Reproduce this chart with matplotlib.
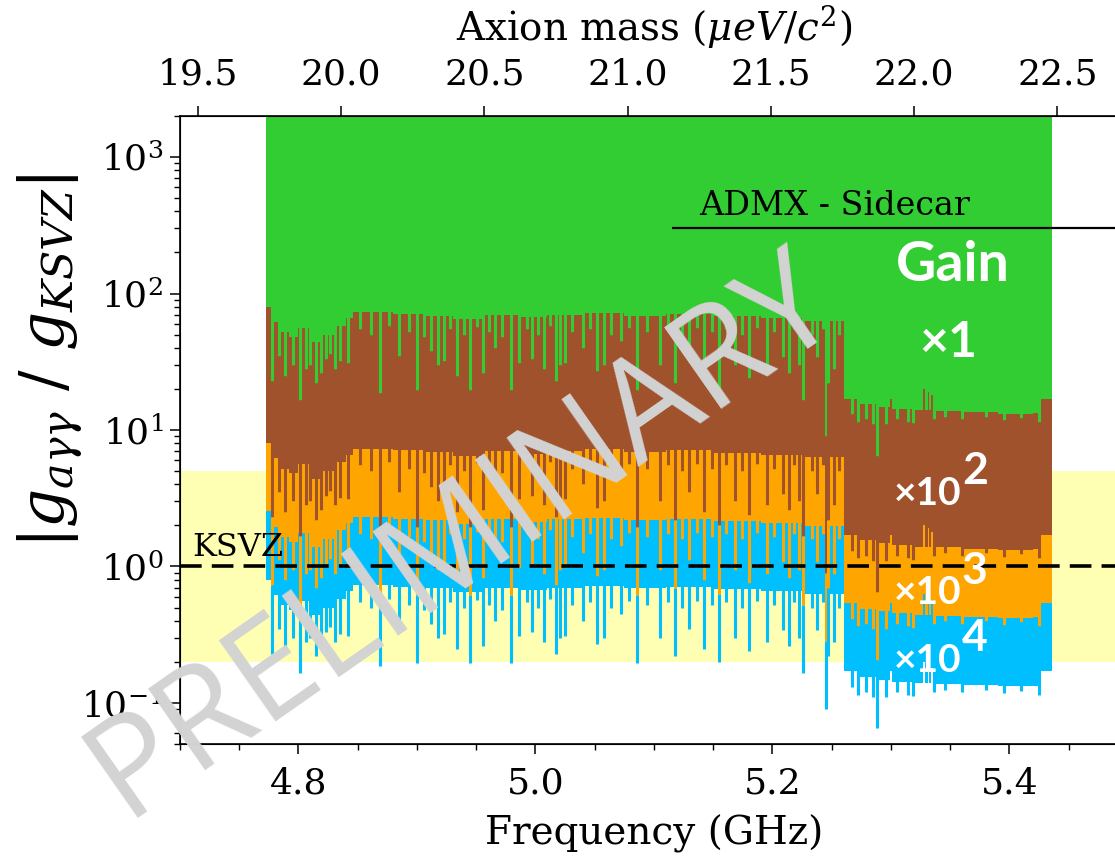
import numpy as np
import matplotlib.pyplot as plt
from matplotlib.ticker import MultipleLocator, FormatStrFormatter

plt.rcParams['font.family'] = 'DejaVu Serif'
plt.rcParams['mathtext.fontset'] = 'dejavuserif'

# h * f : GHz -> ueV
GHZ_TO_UEV = 4.135667

# limit at gain x1: step edges (GHz) and level |g/g_KSVZ|
base_f = [4.773, 4.778, 4.784, 4.792, 4.800, 4.810, 4.820, 4.830, 4.840, 4.846,
          4.880, 4.905, 4.930, 4.955, 4.985, 5.010, 5.040, 5.075, 5.110, 5.150,
          5.190, 5.225, 5.260, 5.272, 5.290, 5.299, 5.301, 5.320, 5.327, 5.3285,
          5.331, 5.3325, 5.334, 5.3355, 5.360, 5.390, 5.420, 5.426, 5.4355]
base_g = [80, 62, 52, 48, 56, 44, 50, 58, 66, 73,
          71, 69, 65, 70, 67, 70, 72, 69, 71, 68,
          66, 63, 17, 15.5, 14.8, 17, 14.3, 14.0, 20, 14,
          19, 14, 18, 13.8, 13.5, 13.2, 13.4, 17, 17]

# narrow dips of the gain x1 limit
dip_f = [4.7775, 4.784, 4.789, 4.795, 4.8017, 4.806, 4.810, 4.815, 4.819, 4.823,
         4.827, 4.831, 4.835, 4.842, 4.869, 4.885, 4.900, 4.912, 4.918, 4.923,
         4.934, 4.945, 4.956, 4.966, 4.979, 4.986, 4.997, 5.007, 5.017, 5.021,
         5.025, 5.040, 5.052, 5.058, 5.072, 5.086, 5.105, 5.118, 5.130, 5.142,
         5.155, 5.168, 5.180, 5.195, 5.209, 5.214, 5.222, 5.226, 5.245, 5.238,
         5.247, 5.252, 5.267, 5.272, 5.279, 5.285, 5.288, 5.296, 5.305, 5.314,
         5.319, 5.336, 5.346, 5.360, 5.380, 5.395, 5.410, 5.425,
         4.852, 4.861, 4.876, 4.893, 4.906, 4.928, 4.940, 4.951, 4.961, 4.972,
         4.993, 5.002, 5.012, 5.031, 5.046, 5.064, 5.079, 5.094, 5.112, 5.124,
         5.136, 5.149, 5.161, 5.174, 5.187, 5.201, 5.218, 5.233, 5.243, 5.256]
dip_g = [23, 35, 25, 30, 16.6, 28, 30, 22, 26, 33,
         36, 28, 32, 31, 18.7, 35, 19.6, 38, 30, 32,
         25, 19.6, 26, 40, 19.6, 31, 33, 28, 23, 30,
         31, 40, 27, 30, 45, 19.6, 30, 22, 35, 25,
         20, 30, 24, 28, 34, 26, 30, 16.6, 9, 34,
         22, 28, 13, 11.5, 12, 11, 6.5, 11, 12, 11.5,
         11.2, 12, 12.5, 12, 12.5, 11.8, 12.3, 11.5,
         55, 50, 58, 52, 48, 55, 50, 57, 52, 48,
         55, 50, 58, 52, 55, 50, 56, 52, 55, 50,
         56, 52, 55, 50, 56, 52, 55, 50, 55, 50]

gains = [1, 1e2, 1e3, 1e4]
gain_exps = ['2', '3', '4']
colors = ['#32cd32', '#a0522d', '#ffa500', '#00bfff']

ksvz_level = 1.0
band_lo, band_hi = 0.2, 5.0
admx_start, admx_level = 5.115, 300

y_top = 2000
fig = plt.figure(figsize=(11.15, 8.58), dpi=100)
ax = fig.add_axes([0.1614, 0.1329, 0.8502, 0.7319])

ax.axhspan(band_lo, band_hi, color='#ffffb3', lw=0, zorder=0)

bf = np.array(base_f)
bg = np.array(base_g)
dg = np.array(dip_g)
scales = [g ** -0.5 for g in gains]
# lowest layer first so the higher ones sit on top
for s, col in reversed(list(zip(scales, colors))):
    ax.fill_between(bf, bg * s, y_top, step='post', color=col, lw=0, zorder=1)
# each layer's dip runs up to where the layer above starts
for k, (s, col) in enumerate(zip(scales, colors)):
    upper = dg * scales[k - 1] if k > 0 else np.full(len(dg), y_top)
    ax.vlines(dip_f, dg * s, upper, color=col, lw=2.2, zorder=2)

ax.axhline(ksvz_level, color='black', lw=2.6, dashes=(6, 2.8), zorder=5)
ax.text(4.71, ksvz_level * 1.06, 'KSVZ', fontsize=23, va='bottom', ha='left', zorder=6)
ax.hlines(admx_level, admx_start, 5.6, color='black', lw=1.6, zorder=5)
ax.text(5.138, admx_level * 1.12, 'ADMX - Sidecar', fontsize=24, va='bottom', ha='left', zorder=6)

sans = ['Lato', 'DejaVu Sans']
ax.text(5.352, 162, 'Gain', color='white', fontsize=40, fontweight='bold', family=sans,
        ha='center', va='center', zorder=6)
ax.text(5.348, 44, '×1', color='white', fontsize=36, fontweight='bold', family=sans,
        ha='center', va='center', zorder=6)
for lvl, sup in zip([3.45, 0.64, 0.206], gain_exps):
    ax.text(5.331, lvl, '×10', color='white', fontsize=28, fontweight='bold', family=sans,
            ha='center', va='center', zorder=6)
    ax.annotate(sup, xy=(5.331, lvl), xytext=(34, 16), textcoords='offset points',
                color='white', fontsize=32, fontweight='bold', family=sans,
                ha='center', va='center', zorder=6)

ax.set_yscale('log')
ax.set_ylim(0.05, y_top)
ax.set_xlim(4.70, 5.50)
ax.xaxis.set_major_locator(MultipleLocator(0.2))
ax.xaxis.set_minor_locator(MultipleLocator(0.05))
ax.xaxis.set_major_formatter(FormatStrFormatter('%.1f'))
ax.tick_params(which='major', length=7, width=1.1, labelsize=26, pad=5)
ax.tick_params(axis='x', which='major', pad=9)
ax.tick_params(which='minor', length=4, width=1.0)
ax.set_xlabel('Frequency (GHz)', fontsize=28, labelpad=10)
ax.set_ylabel(r'$|g_{a\gamma\gamma}\ /\ g_{KSVZ}|$', fontsize=44)
ax.yaxis.set_label_coords(-0.10, 0.61)
for sp in ax.spines.values():
    sp.set_linewidth(1.2)

top = ax.twiny()
top.set_xlim(4.70 * GHZ_TO_UEV, 5.50 * GHZ_TO_UEV)
top.xaxis.set_major_locator(MultipleLocator(0.5))
top.xaxis.set_major_formatter(FormatStrFormatter('%.1f'))
top.tick_params(which='major', length=7, width=1.1, labelsize=26, pad=11)
top.set_xlabel(r'Axion mass ($\mu eV/c^2$)', fontsize=28, labelpad=12)

fig.text(0.415, 0.375, 'PRELIMINARY', rotation=35, rotation_mode='anchor',
         fontsize=100, color='#d3d3d3', family=['Open Sans', 'DejaVu Sans'],
         ha='center', va='center', zorder=20)

fig.savefig('out.png', dpi=100)
